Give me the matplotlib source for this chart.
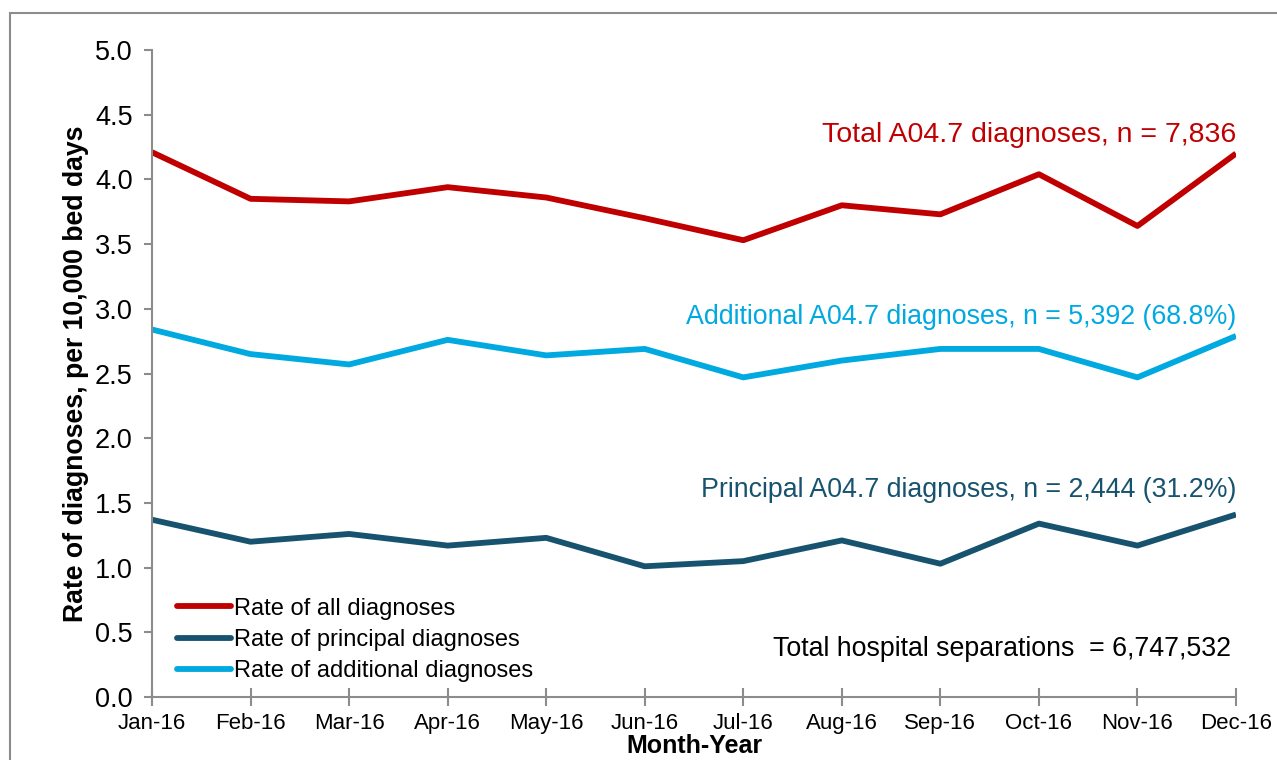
import matplotlib.pyplot as plt
from matplotlib.patches import Rectangle

plt.rcParams['font.family'] = ['Liberation Sans', 'DejaVu Sans']

months = ['Jan-16', 'Feb-16', 'Mar-16', 'Apr-16', 'May-16', 'Jun-16',
          'Jul-16', 'Aug-16', 'Sep-16', 'Oct-16', 'Nov-16', 'Dec-16']
rate_all = [4.21, 3.85, 3.83, 3.94, 3.86, 3.70, 3.53, 3.80, 3.73, 4.04, 3.64, 4.20]
rate_principal = [1.37, 1.20, 1.26, 1.17, 1.23, 1.01, 1.05, 1.21, 1.03, 1.34, 1.17, 1.41]
rate_additional = [2.84, 2.65, 2.57, 2.76, 2.64, 2.69, 2.47, 2.60, 2.69, 2.69, 2.47, 2.79]

red = '#C00000'
navy = '#17536E'
cyan = '#00A9E0'

fig = plt.figure(figsize=(12.77, 7.6), dpi=100)
# grey frame around the chart area
fig.patches.append(Rectangle((10 / 1277, -0.1), 1.2, 1.1 - 13 / 760,
                             transform=fig.transFigure, fill=False,
                             edgecolor='#8c8c8c', linewidth=1.5))

ax = fig.add_axes([152 / 1277, 1 - 697 / 760, (1236 - 152) / 1277, (697 - 50) / 760])
x = list(range(len(months)))
ax.plot(x, rate_all, color=red, lw=4.2, label='Rate of all diagnoses', solid_capstyle='butt')
ax.plot(x, rate_principal, color=navy, lw=4.2, label='Rate of principal diagnoses', solid_capstyle='butt')
ax.plot(x, rate_additional, color=cyan, lw=4.2, label='Rate of additional diagnoses', solid_capstyle='butt')

ax.set_xlim(0, len(months) - 1)
ax.set_ylim(0, 5)
ax.set_yticks([i * 0.5 for i in range(11)])
ax.set_yticklabels([f'{i * 0.5:.1f}' for i in range(11)])
ax.set_xticks(x)
ax.set_xticklabels(months)
ax.tick_params(axis='y', labelsize=19.5, colors='#8c8c8c', labelcolor='black', length=6, width=1.5, pad=8)
ax.tick_params(axis='x', labelsize=16, colors='#8c8c8c', labelcolor='black', direction='inout',
               length=13, width=1.5, pad=5)
for s in ['top', 'right']:
    ax.spines[s].set_visible(False)
for s in ['left', 'bottom']:
    ax.spines[s].set_color('#8c8c8c')
    ax.spines[s].set_linewidth(1.5)

ax.set_ylabel('Rate of diagnoses, per 10,000 bed days', fontsize=19.2, fontweight='bold', labelpad=4)
ax.set_xlabel('Month-Year', fontsize=18, fontweight='bold', labelpad=0)

ax.text(11, 4.34, 'Total A04.7 diagnoses, n = 7,836', color=red, fontsize=20.5,
        ha='right', va='center')
ax.text(11, 2.94, 'Additional A04.7 diagnoses, n = 5,392 (68.8%)', color=cyan, fontsize=19.3,
        ha='right', va='center')
ax.text(11, 1.60, 'Principal A04.7 diagnoses, n = 2,444 (31.2%)', color=navy, fontsize=19.3,
        ha='right', va='center')
ax.text(10.95, 0.37, 'Total hospital separations  = 6,747,532', color='black', fontsize=19.3,
        ha='right', va='center')

leg = ax.legend(loc='lower left', bbox_to_anchor=(8 / 1084, -2 / 647), frameon=False, fontsize=17,
                handlelength=2.3, handletextpad=0.15, labelspacing=0.4, borderaxespad=0.3)
for h in leg.get_lines():
    h.set_solid_capstyle('round')

fig.savefig('out.png', dpi=100)
